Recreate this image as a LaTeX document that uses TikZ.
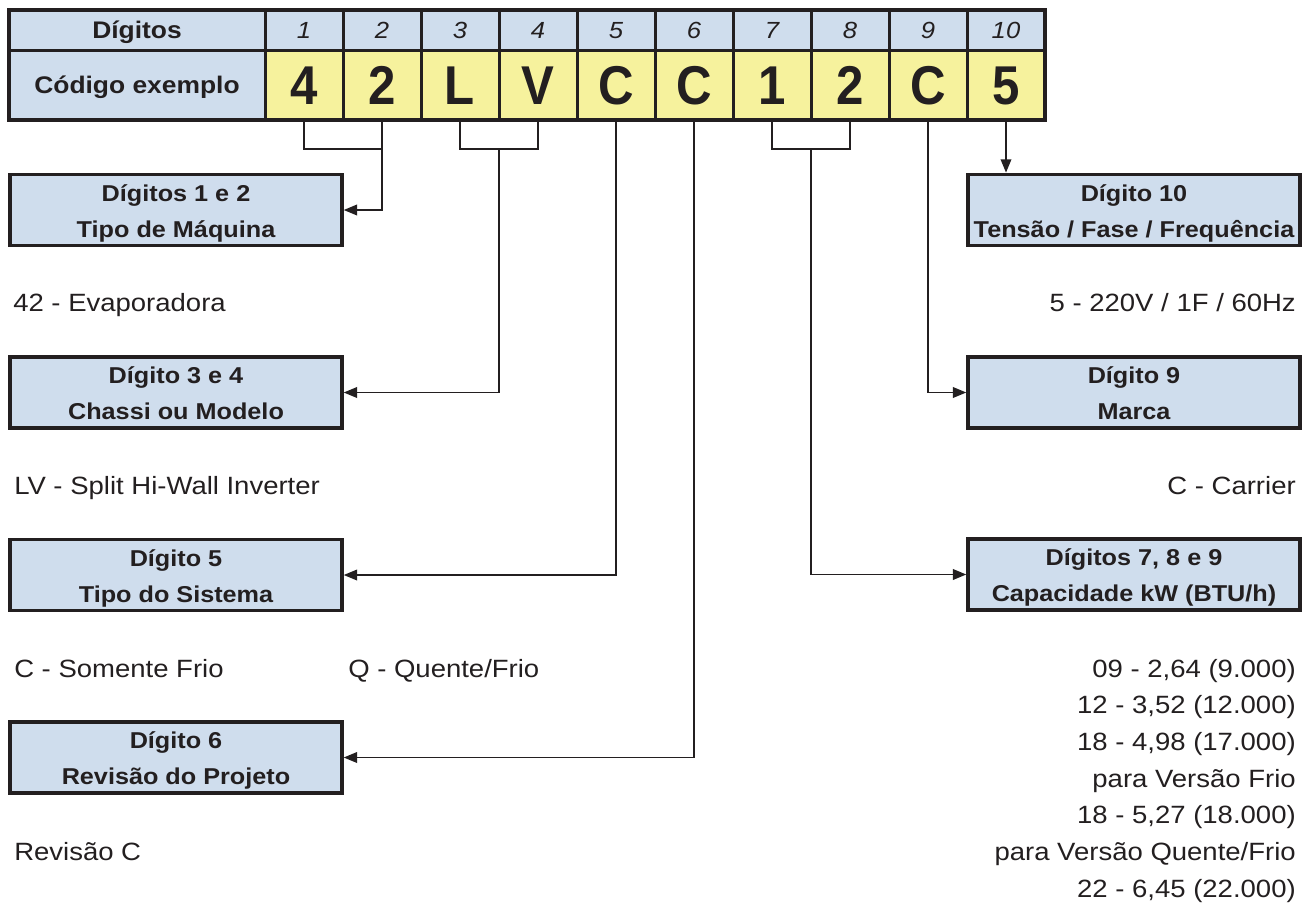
\documentclass[tikz,border=0pt]{standalone}
\usepackage{fontspec}
\setmainfont{Liberation Sans}[FakeStretch=1.1]
\newfontfamily\codefont{Liberation Sans}[FakeStretch=0.9]
\usetikzlibrary{arrows.meta,calc}
\definecolor{ink}{HTML}{231F20}
\definecolor{paleblue}{HTML}{CFDDED}
\definecolor{paleyellow}{HTML}{F6F29D}

\begin{document}
\begin{tikzpicture}[x=0.75pt,y=-0.75pt,
  cell/.style={draw=ink, line width=2.25pt, outer sep=0pt, inner sep=0pt,
    text=ink, text depth=0pt},
  labelcell/.style={cell, fill=paleblue, minimum width=192pt,
    font=\bfseries\fontsize{18}{20}\selectfont, text height=12.9pt},
  hdrcell/.style={cell, fill=paleblue, minimum width=58.5pt, minimum height=30pt,
    font=\itshape\fontsize{17.5}{19}\selectfont, text height=12.5pt},
  codecell/.style={cell, fill=paleyellow, minimum width=58.5pt, minimum height=52.5pt,
    font=\codefont\bfseries\fontsize{41}{45}\selectfont, text height=29.4pt},
  descbox/.style={draw=ink, line width=2.6pt, fill=paleblue,
    minimum width=249pt, minimum height=53.5pt},
  boxline/.style={font=\bfseries\fontsize{17.2}{20}\selectfont, text=ink,
    inner sep=0pt, anchor=base},
  plain/.style={font=\fontsize{18.75}{22}\selectfont, text=ink, inner sep=0pt},
  conn/.style={draw=ink, line width=1.1pt},
  arr/.style={conn, -{Triangle[length=10pt,width=8pt]}}
]
\useasboundingbox (0,0) rectangle (1313,903);

% code table
\node[labelcell, minimum height=30pt] (hd) at (137,30) {Dígitos};
\node[labelcell, minimum height=52.5pt] (cd) at (137,85) {Código exemplo};
\foreach \d [count=\k] in {4,2,L,V,C,C,1,2,C,5} {
  \node[hdrcell] (h\k) at ({304+78*(\k-1)},30) {\k};
  \node[codecell] (c\k) at ({304+78*(\k-1)},85) {\d};
}
\draw[ink, line width=3pt] (hd.north west) rectangle (c10.south east);

% description boxes
\node[descbox] (d12)  at (176,210)   {};
\node[descbox] (d34)  at (176,392.5) {};
\node[descbox] (d5)   at (176,575)   {};
\node[descbox] (d6)   at (176,757.5) {};
\node[descbox] (d10)  at (1134,210)   {};
\node[descbox] (d9)   at (1134,392.5) {};
\node[descbox] (d789) at (1134,574.5) {};

\node[boxline] (d12a)  at ($(d12.center)+(0,-9)$)  {Dígitos 1 e 2};
\node[boxline] (d12b)  at ($(d12.center)+(0,27)$)  {Tipo de Máquina};
\node[boxline] (d34a)  at ($(d34.center)+(0,-9)$)  {Dígito 3 e 4};
\node[boxline] (d34b)  at ($(d34.center)+(0,27)$)  {Chassi ou Modelo};
\node[boxline] (d5a)   at ($(d5.center)+(0,-9)$)   {Dígito 5};
\node[boxline] (d5b)   at ($(d5.center)+(0,27)$)   {Tipo do Sistema};
\node[boxline] (d6a)   at ($(d6.center)+(0,-9)$)   {Dígito 6};
\node[boxline] (d6b)   at ($(d6.center)+(0,27)$)   {Revisão do Projeto};
\node[boxline] (d10a)  at ($(d10.center)+(0,-9)$)  {Dígito 10};
\node[boxline] (d10b)  at ($(d10.center)+(0,27)$)  {Tensão / Fase / Frequência};
\node[boxline] (d9a)   at ($(d9.center)+(0,-9)$)   {Dígito 9};
\node[boxline] (d9b)   at ($(d9.center)+(0,27)$)   {Marca};
\node[boxline] (d789a) at ($(d789.center)+(0,-9)$) {Dígitos 7, 8 e 9};
\node[boxline] (d789b) at ($(d789.center)+(0,27)$) {Capacidade kW (BTU/h)};

% connectors
\coordinate (lvl) at (0,149);
\coordinate (b2) at (c2.south |- lvl);
\coordinate (b4) at (c4.south |- lvl);
\coordinate (b8) at (c8.south |- lvl);
\coordinate (m34) at ($(c3.south |- lvl)!0.5!(b4)$);
\coordinate (m78) at ($(c7.south |- lvl)!0.5!(b8)$);

\draw[conn] (c1.south) |- (b2);
\draw[arr]  (c2.south) |- (d12.east);
\draw[conn] (c3.south) |- (b4) -- (c4.south);
\draw[arr]  (m34) |- (d34.east);
\draw[arr]  (c5.south) |- (d5.east);
\draw[arr]  (c6.south) |- (d6.east);
\draw[conn] (c7.south) |- (b8) -- (c8.south);
\draw[arr]  (m78) |- (d789.west);
\draw[arr]  (c9.south) |- (d9.west);
\draw[arr]  (c10.south) -- (c10.south |- d10.north);

% value texts
\node[plain, anchor=base west] (v12)  at (13,311) {42 - Evaporadora};
\node[plain, anchor=base west] (v34)  at (14,494) {LV - Split Hi-Wall Inverter};
\node[plain, anchor=base west] (v5c)  at (14,677) {C - Somente Frio};
\node[plain, anchor=base west] (v5q)  at (348,677) {Q - Quente/Frio};
\node[plain, anchor=base west] (v6)   at (14,860) {Revisão C};
\node[plain, anchor=base east] (v10)  at (1296,311) {5 - 220V / 1F / 60Hz};
\node[plain, anchor=base east] (v9)   at (1296,494) {C - Carrier};
\foreach \t [count=\i from 0] in {09 - 2{,}64 (9.000), 12 - 3{,}52 (12.000),
    18 - 4{,}98 (17.000), para Versão Frio, 18 - 5{,}27 (18.000),
    para Versão Quente/Frio, 22 - 6{,}45 (22.000)} {
  \node[plain, anchor=base east] (v789\i) at (1296,{677+36.67*\i}) {\t};
}
\end{tikzpicture}
\end{document}
